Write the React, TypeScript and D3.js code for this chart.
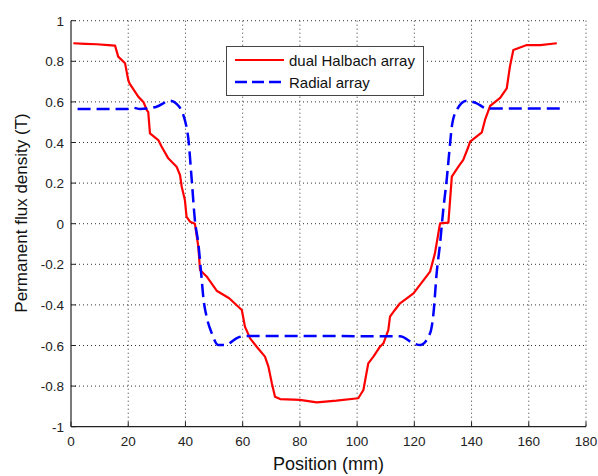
import React from "react";
import * as d3 from "d3";

const xTicks = [0, 20, 40, 60, 80, 100, 120, 140, 160, 180];
const yTicks = [-1, -0.8, -0.6, -0.4, -0.2, 0, 0.2, 0.4, 0.6, 0.8, 1];

const halbachX = [0.8, 5, 9, 13, 15.4, 16.5, 18.9, 20, 20.5, 23.5, 25.3, 26.5, 27, 27.6, 30.5, 31.7, 34, 36.9, 38.1, 38.7, 39.8, 40.4, 41.6, 43.3, 44.5, 45.1, 47.4, 50.9, 55.3, 59.7, 60.8, 62.6, 64.9, 67.8, 69, 70.2, 71.3, 73.1, 80, 85.9, 92.8, 100.4, 102.2, 103.9, 105.7, 108, 109.2, 110.9, 111.5, 113.2, 115, 119.7, 125.5, 127.2, 128.4, 129, 131.9, 132.5, 133.1, 135.4, 137.1, 138.9, 139.5, 143.6, 144.7, 146.5, 150, 152.3, 153.4, 154.6, 159.3, 164, 169.8];
const halbachY = [0.889, 0.886, 0.884, 0.88, 0.877, 0.823, 0.79, 0.708, 0.69, 0.626, 0.6, 0.56, 0.55, 0.445, 0.412, 0.379, 0.322, 0.281, 0.24, 0.182, 0.117, 0.034, 0.01, 0.0, -0.113, -0.228, -0.26, -0.33, -0.367, -0.425, -0.507, -0.565, -0.606, -0.655, -0.704, -0.786, -0.852, -0.864, -0.868, -0.88, -0.872, -0.86, -0.819, -0.688, -0.655, -0.606, -0.589, -0.524, -0.458, -0.425, -0.392, -0.343, -0.236, -0.146, -0.047, 0.002, 0.005, 0.117, 0.232, 0.281, 0.314, 0.379, 0.404, 0.45, 0.511, 0.58, 0.62, 0.667, 0.773, 0.856, 0.88, 0.88, 0.889];

const radialX = [2.3, 19.5, 21.8, 24.1, 29.9, 34.6, 36.9, 39.8, 41, 42.2, 43.3, 44.5, 45.7, 46.3, 47.4, 49.2, 51.5, 53.8, 58.5, 60.8, 115, 119.7, 122, 125.5, 126.7, 127.8, 129, 130.1, 131.3, 132.5, 133.1, 134.8, 138.3, 141.8, 145.3, 172];
const radialY = [0.565, 0.565, 0.571, 0.565, 0.576, 0.606, 0.59, 0.51, 0.42, 0.215, 0.018, -0.097, -0.277, -0.37, -0.458, -0.54, -0.598, -0.598, -0.56, -0.553, -0.555, -0.589, -0.598, -0.54, -0.441, -0.244, -0.097, 0.067, 0.215, 0.396, 0.478, 0.56, 0.606, 0.593, 0.568, 0.568];

const seriesNames = ["dual Halbach array", "Radial array"];

export default function App() {
  const W = 598, H = 476;
  const left = 71, right = 586, top = 20.7, bottom = 426.7;
  const x = d3.scaleLinear().domain([0, 180]).range([left, right]);
  const y = d3.scaleLinear().domain([-1, 1]).range([bottom, top]);
  const font = "'Liberation Sans', Arial, sans-serif";

  const redLine = d3.line<number>().x((_, i) => x(halbachX[i])).y((d) => y(d)).curve(d3.curveLinear);
  const blueLine = d3.line<number>().x((_, i) => x(radialX[i])).y((d) => y(d)).curve(d3.curveMonotoneX);

  return (
    <svg width={W} height={H} style={{ position: "absolute", left: 0, top: 0, background: "#fff" }} fontFamily={font}>
      <rect x={0} y={0} width={W} height={H} fill="#fff" />
      {/* grid */}
      {xTicks.filter((t) => t !== 0).map((t) => (
        <line key={"gx" + t} x1={x(t)} x2={x(t)} y1={top} y2={bottom} stroke="#333" strokeWidth={1} strokeDasharray="1,3" />
      ))}
      {yTicks.filter((t) => t !== -1).map((t) => (
        <line key={"gy" + t} x1={left} x2={right} y1={y(t)} y2={y(t)} stroke="#333" strokeWidth={1} strokeDasharray="1,3" />
      ))}
      {/* axes */}
      <line x1={left} x2={left} y1={top} y2={bottom} stroke="#222" strokeWidth={1.2} />
      <line x1={left} x2={right} y1={bottom} y2={bottom} stroke="#222" strokeWidth={1.2} />
      {xTicks.map((t) => (
        <g key={"xt" + t}>
          <line x1={x(t)} x2={x(t)} y1={bottom} y2={bottom - 5} stroke="#222" />
          <text x={x(t)} y={bottom + 19} textAnchor="middle" fontSize={13.5} fill="#222">{t}</text>
        </g>
      ))}
      {yTicks.map((t) => (
        <g key={"yt" + t}>
          <line x1={left} x2={left + 5} y1={y(t)} y2={y(t)} stroke="#222" />
          <text x={left - 7} y={y(t) + 5} textAnchor="end" fontSize={13.5} fill="#222">{String(+t.toFixed(1))}</text>
        </g>
      ))}
      <text x={(left + right) / 2} y={470} textAnchor="middle" fontSize={18} fill="#111">Position (mm)</text>
      <text transform={`translate(27,213) rotate(-90)`} textAnchor="middle" fontSize={17} fill="#111">Permanent flux density (T)</text>
      {/* series */}
      <path d={redLine(halbachY) || ""} fill="none" stroke="#ff0000" strokeWidth={2.2} strokeLinejoin="round" />
      <path d={blueLine(radialY) || ""} fill="none" stroke="#0000ff" strokeWidth={2.5} strokeDasharray="13,6" />
      {/* legend */}
      <rect x={226.5} y={46.5} width={197} height={49} fill="#fff" stroke="#444" strokeWidth={1} />
      <line x1={235} x2={284} y1={60} y2={60} stroke="#ff0000" strokeWidth={2.2} />
      <text x={289} y={66} fontSize={15} fill="#111">{seriesNames[0]}</text>
      <line x1={235} x2={284} y1={82} y2={82} stroke="#0000ff" strokeWidth={2.5} strokeDasharray="12,5" />
      <text x={289} y={87.5} fontSize={15} fill="#111">{seriesNames[1]}</text>
    </svg>
  );
}
